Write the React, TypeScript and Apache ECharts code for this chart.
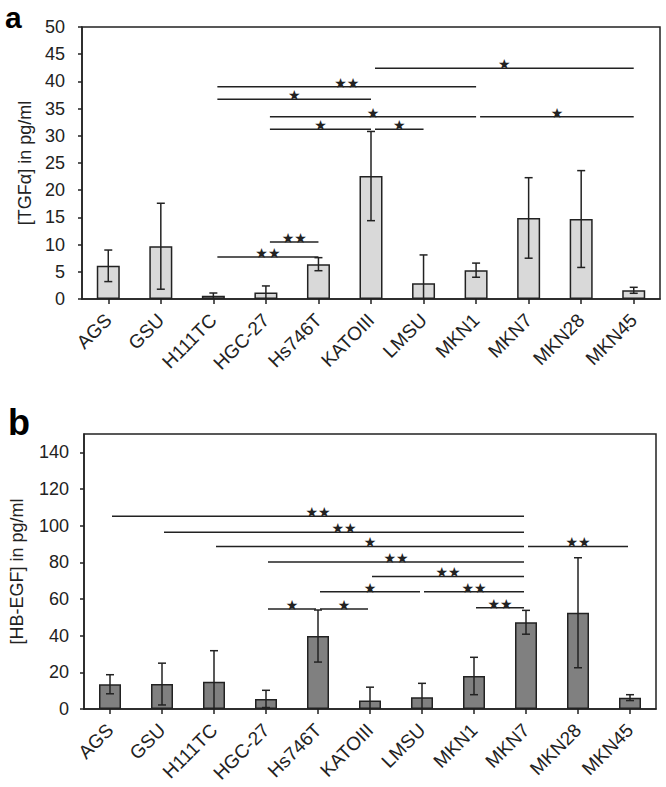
import React, { useEffect, useRef } from "react";
import * as echarts from "echarts";

const categories = ["AGS", "GSU", "H111TC", "HGC-27", "Hs746T", "KATOIII", "LMSU", "MKN1", "MKN7", "MKN28", "MKN45"];

const tgfMean = [6.1, 9.7, 0.6, 1.2, 6.4, 22.6, 2.9, 5.3, 14.9, 14.7, 1.6];
const tgfSd = [2.9, 7.9, 0.5, 1.2, 1.2, 8.2, 5.2, 1.3, 7.4, 8.9, 0.55];

const hbMean = [13.5, 13.6, 14.8, 5.5, 39.8, 4.7, 6.4, 18.0, 47.3, 52.5, 6.2];
const hbSd = [5.2, 11.4, 17.0, 4.7, 14.2, 7.2, 7.6, 10.2, 6.5, 30.0, 1.6];

// [from, to, level, label]
const sigA: [string, string, number, string][] = [
  ["KATOIII", "MKN45", 42.4, "*"],
  ["H111TC", "MKN1", 39.0, "**"],
  ["H111TC", "KATOIII", 36.7, "*"],
  ["HGC-27", "MKN1", 33.5, "*"],
  ["MKN1", "MKN45", 33.5, "*"],
  ["HGC-27", "KATOIII", 31.2, "*"],
  ["KATOIII", "LMSU", 31.2, "*"],
  ["HGC-27", "Hs746T", 10.5, "**"],
  ["H111TC", "Hs746T", 7.7, "**"],
];

const sigB: [string, string, number, string][] = [
  ["AGS", "MKN7", 105.1, "**"],
  ["GSU", "MKN7", 96.4, "**"],
  ["H111TC", "MKN7", 88.7, "*"],
  ["MKN7", "MKN45", 88.7, "**"],
  ["HGC-27", "MKN7", 80.2, "**"],
  ["KATOIII", "MKN7", 72.3, "**"],
  ["Hs746T", "LMSU", 64.0, "*"],
  ["LMSU", "MKN7", 64.0, "**"],
  ["MKN1", "MKN7", 55.2, "**"],
  ["HGC-27", "Hs746T", 54.5, "*"],
  ["Hs746T", "KATOIII", 54.5, "*"],
];

const yTicksA = { min: 0, max: 50, interval: 5 };
const yTicksB = { min: 0, max: 150, interval: 20 };

const ink = "#222";
const font = "'Liberation Sans', Arial, sans-serif";

function errorSeries(gi: number, mean: number[], sd: number[]) {
  return {
    type: "custom",
    xAxisIndex: gi,
    yAxisIndex: gi,
    z: 5,
    clip: false,
    data: mean.map((m, i) => [i, m, sd[i]]),
    encode: { x: 0, y: 1 },
    renderItem: (params: any, api: any) => {
      const i = api.value(0);
      const m = api.value(1);
      const s = api.value(2);
      const hi = m + s;
      const loRaw = m - s;
      const lo = Math.max(0, loRaw);
      const pHi = api.coord([i, hi]);
      const pLo = api.coord([i, lo]);
      const cw = 4;
      const st = { stroke: ink, lineWidth: 1.5 };
      const children: any[] = [
        { type: "line", shape: { x1: pHi[0], y1: pHi[1], x2: pLo[0], y2: pLo[1] }, style: st },
        { type: "line", shape: { x1: pHi[0] - cw, y1: pHi[1], x2: pHi[0] + cw, y2: pHi[1] }, style: st },
      ];
      if (loRaw > 0.3) {
        children.push({ type: "line", shape: { x1: pLo[0] - cw, y1: pLo[1], x2: pLo[0] + cw, y2: pLo[1] }, style: st });
      }
      return { type: "group", children };
    },
  };
}

function sigSeries(gi: number, sig: [string, string, number, string][], startOff: number, endOff: number) {
  const idx = (c: string) => categories.indexOf(c);
  return {
    type: "custom",
    xAxisIndex: gi,
    yAxisIndex: gi,
    z: 6,
    clip: false,
    data: sig.map((s) => [idx(s[0]), s[2], idx(s[1])]),
    encode: { x: 0, y: 1 },
    renderItem: (params: any, api: any) => {
      const v = api.value(1);
      const p1 = api.coord([api.value(0), v]);
      const p2 = api.coord([api.value(2), v]);
      const x1 = p1[0] + startOff;
      const x2 = p2[0] + endOff;
      const lab = sig[params.dataIndex][3];
      return {
        type: "group",
        children: [
          { type: "line", shape: { x1, y1: p1[1], x2, y2: p1[1] }, style: { stroke: ink, lineWidth: 1.5 } },
          {
            type: "text",
            style: {
              text: lab === "**" ? "★★" : "★",
              x: (x1 + x2) / 2,
              y: p1[1] + 3,
              textAlign: "center",
              textVerticalAlign: "bottom",
              fontSize: 14,
              fontFamily: "'DejaVu Sans', sans-serif",
              fill: ink,
            },
          },
        ],
      };
    },
  };
}

function xAxisCfg(gi: number) {
  return {
    gridIndex: gi,
    type: "category",
    data: categories,
    axisLine: { show: true, lineStyle: { color: ink, width: 1.5 } },
    axisTick: { show: true, alignWithLabel: true, length: 5, lineStyle: { color: ink, width: 1.5 } },
    axisLabel: { rotate: 45, interval: 0, fontSize: 19, color: ink, fontFamily: font, margin: 18 },
  };
}

function yAxisCfg(gi: number, t: any, name: string, nameGap: number, margin: number) {
  return {
    gridIndex: gi,
    type: "value",
    min: t.min,
    max: t.max,
    interval: t.interval,
    splitLine: { show: false },
    axisLine: { show: true, lineStyle: { color: ink, width: 1.5 } },
    axisTick: { show: true, length: 4, lineStyle: { color: ink, width: 1.5 } },
    axisLabel: { fontSize: 18, color: ink, fontFamily: font, margin, showMaxLabel: gi === 0 },
    name,
    nameLocation: "middle",
    nameGap,
    nameTextStyle: { fontSize: 18, color: ink, fontFamily: font },
  };
}

export default function App() {
  const ref = useRef<HTMLDivElement>(null);
  useEffect(() => {
    document.body.style.margin = "0";
    const chart = echarts.init(ref.current!, null, { renderer: "svg" });
    chart.setOption({
      animation: false,
      backgroundColor: "#fff",
      grid: [
        { left: 82, top: 27, width: 578, height: 272, show: true, borderColor: ink, borderWidth: 1.5 },
        { left: 83, top: 434, width: 573, height: 275, show: true, borderColor: ink, borderWidth: 1.5 },
      ],
      xAxis: [xAxisCfg(0), xAxisCfg(1)],
      yAxis: [
        yAxisCfg(0, yTicksA, "[TGFα] in pg/ml", 42, 17),
        yAxisCfg(1, yTicksB, "[HB-EGF] in pg/ml", 58, 15),
      ],
      graphic: [
        { type: "text", left: 5, top: 2, style: { text: "a", fontSize: 30, fontWeight: "bold", fontFamily: font, fill: "#000" } },
        { type: "text", left: 8, top: 404, style: { text: "b", fontSize: 36, fontWeight: "bold", fontFamily: font, fill: "#000" } },
      ],
      series: [
        {
          type: "bar",
          xAxisIndex: 0,
          yAxisIndex: 0,
          data: tgfMean,
          barWidth: 23,
          itemStyle: { color: "#d9d9d9", borderColor: ink, borderWidth: 1.5 },
        },
        errorSeries(0, tgfMean, tgfSd),
        sigSeries(0, sigA, 4, 0),
        {
          type: "bar",
          xAxisIndex: 1,
          yAxisIndex: 1,
          data: hbMean,
          barWidth: 22,
          itemStyle: { color: "#808080", borderColor: ink, borderWidth: 1.5 },
        },
        errorSeries(1, hbMean, hbSd),
        sigSeries(1, sigB, 2, -2),
      ],
    });
    return () => chart.dispose();
  }, []);
  return <div ref={ref} style={{ width: 666, height: 787 }} />;
}
